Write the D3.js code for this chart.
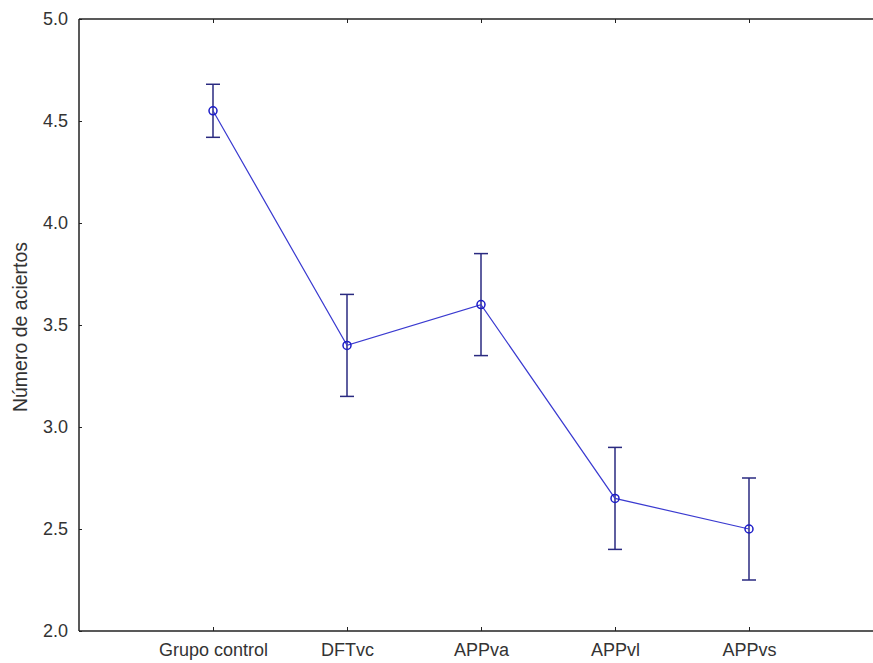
<!DOCTYPE html>
<html lang="en">
<head>
  <meta charset="UTF-8">
  <title>Número de aciertos</title>
  <script src="https://d3js.org/d3.v7.min.js"></script>
  <style>
    html, body { margin: 0; background: #fff; overflow: hidden; }
    svg { display: block; }
    text { font-family: "Liberation Sans", Arial, sans-serif; fill: #333; }
    .frame { stroke: #222; stroke-width: 1.5; }
    .axis line { stroke: #222; }
    .axis path { display: none; }
  </style>
</head>
<body>
<div id="chart"></div>
<script>
  // data
  const groups = ["Grupo control", "DFTvc", "APPva", "APPvl", "APPvs"];
  const means = [4.55, 3.40, 3.60, 2.65, 2.50];
  const lower = [4.42, 3.15, 3.35, 2.40, 2.25];
  const upper = [4.68, 3.65, 3.85, 2.90, 2.75];
  const yTicks = [2.0, 2.5, 3.0, 3.5, 4.0, 4.5, 5.0];

  const W = 873, H = 663;
  const margin = { top: 19, right: -10, bottom: 32, left: 79 };
  const width = W - margin.left - margin.right;
  const height = H - margin.top - margin.bottom;

  const svg = d3.select("#chart").append("svg")
    .attr("width", W)
    .attr("height", H)
    .append("g")
    .attr("transform", "translate(" + margin.left + "," + margin.top + ")");

  const x = d3.scalePoint().domain(groups).range([0, width]).padding(1);
  const y = d3.scaleLinear().domain([2, 5]).range([height, 0]);

  // frame: top, left and bottom only - the right side is cut off in the original
  const edge = W - margin.left;
  svg.append("line").attr("class", "frame").attr("x1", 0).attr("x2", edge).attr("y1", 0).attr("y2", 0);
  svg.append("line").attr("class", "frame").attr("x1", 0).attr("x2", edge).attr("y1", height).attr("y2", height);
  svg.append("line").attr("class", "frame").attr("x1", 0).attr("x2", 0).attr("y1", 0).attr("y2", height);

  // bottom axis, ticks pointing inside
  const xa = svg.append("g").attr("class", "axis")
    .attr("transform", "translate(0," + height + ")")
    .call(d3.axisBottom(x).tickSizeInner(-4).tickSizeOuter(0).tickPadding(12));
  xa.selectAll("text").style("font-size", "18px").attr("fill", "#333");

  // top ticks
  svg.append("g").attr("class", "axis")
    .call(d3.axisTop(x).tickSizeInner(-4).tickSizeOuter(0).tickFormat(""));

  // left axis
  const ya = svg.append("g").attr("class", "axis")
    .call(d3.axisLeft(y).tickValues(yTicks).tickFormat(d3.format(".1f"))
      .tickSizeInner(-3).tickSizeOuter(0).tickPadding(11));
  ya.selectAll("text").style("font-size", "18px").attr("fill", "#333");

  // y label
  svg.append("text")
    .attr("transform", "rotate(-90)")
    .attr("x", -(327 - margin.top))
    .attr("y", 27 - margin.left)
    .attr("text-anchor", "middle")
    .style("font-size", "19.5px")
    .text("Número de aciertos");

  const pts = groups.map((g, i) => ({ g: g, m: means[i], lo: lower[i], hi: upper[i] }));

  // error bars
  const eb = svg.selectAll(".eb").data(pts).enter().append("g").attr("class", "eb")
    .attr("stroke", "#2a2a80").attr("stroke-width", 1.5);
  eb.append("line")
    .attr("x1", d => x(d.g)).attr("x2", d => x(d.g))
    .attr("y1", d => y(d.lo)).attr("y2", d => y(d.hi));
  eb.append("line")
    .attr("x1", d => x(d.g) - 7).attr("x2", d => x(d.g) + 7)
    .attr("y1", d => y(d.hi)).attr("y2", d => y(d.hi));
  eb.append("line")
    .attr("x1", d => x(d.g) - 7).attr("x2", d => x(d.g) + 7)
    .attr("y1", d => y(d.lo)).attr("y2", d => y(d.lo));

  // mean line
  svg.append("path").datum(pts)
    .attr("fill", "none")
    .attr("stroke", "#3a3ad0")
    .attr("stroke-width", 1.2)
    .attr("d", d3.line().x(d => x(d.g)).y(d => y(d.m)));

  // points
  svg.selectAll(".pt").data(pts).enter().append("circle")
    .attr("cx", d => x(d.g)).attr("cy", d => y(d.m)).attr("r", 4)
    .attr("fill", "none").attr("stroke", "#1c1cc8").attr("stroke-width", 1.5);
</script>
</body>
</html>
